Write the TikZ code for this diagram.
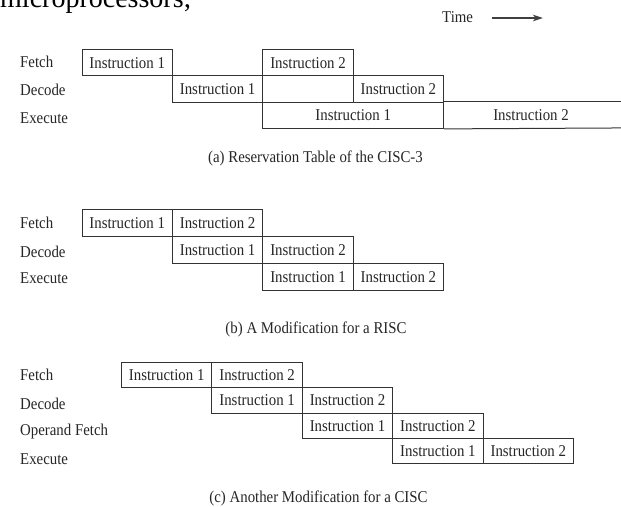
\documentclass[tikz,border=0pt]{standalone}
\usepackage{fontspec}
\setmainfont[FakeStretch=0.9]{Liberation Serif}
\newfontfamily\pagefont{Liberation Serif}
\usetikzlibrary{arrows.meta}
\begin{document}
\begin{tikzpicture}[x=1pt,y=-1pt,
  every node/.style={font=\fontsize{16.5}{18}\selectfont, inner sep=0pt, text=black!85},
  cell/.style={draw=black!80, line width=1pt, minimum width=90.4pt, anchor=north west},
  rowlabel/.style={anchor=base west},
  caption/.style={anchor=base},
  edge/.style={draw=black!80, line width=1pt}]
\useasboundingbox (0,0) rectangle (621,506);
\clip (0,0) rectangle (621,506);
\fill[white] (0,0) rectangle (621,506);

% cut-off page text
\node[anchor=base west, font=\pagefont\fontsize{28}{30}\selectfont, text=black] (page) at (0,7.5) {microprocessors;};

% Time arrow
\node[anchor=base west] (time) at (442,22.5) {Time};
\coordinate (timestart) at (492,18);
\coordinate (timeend) at (543,18);
\draw[draw=black!75, line width=1.2pt, -{Stealth[length=10pt,width=6.5pt,inset=2.5pt]}] (timestart) -- (timeend);

% ---------- (a) ----------
\begin{scope}
\node[rowlabel] (aF) at (20,67.5) {Fetch};
\node[rowlabel] (aD) at (20,95.5) {Decode};
\node[rowlabel] (aE) at (20,123.3) {Execute};
\tikzset{cell/.append style={minimum height=26.3pt}}
\node[cell] (af1) at (81.5,49) {Instruction 1};
\node[cell] (af2) at (262.3,49) {Instruction 2};
\node[cell] (ad1) at (171.9,75.3) {Instruction 1};
\node[cell] (ad2) at (352.7,75.3) {Instruction 2};
\node[cell, minimum width=180.8pt] (ae1) at (262.3,101.6) {Instruction 1};
\node (ae2) at (531,114.75) {Instruction 2};
\coordinate (aetop) at (630,101.6);
\coordinate (aebot) at (630,127.9);
\draw[edge] (ae1.north east) -- (aetop);
\draw[edge] (ae1.south east) -- (aebot);
\end{scope}
\node[caption] (capa) at (315.5,162) {(a) Reservation Table of the CISC-3};

% ---------- (b) ----------
\begin{scope}
\node[rowlabel] (bF) at (20,228) {Fetch};
\node[rowlabel] (bD) at (20,257) {Decode};
\node[rowlabel] (bE) at (20,283) {Execute};
\tikzset{cell/.append style={minimum height=27pt}}
\node[cell] (bf1) at (81.5,209) {Instruction 1};
\node[cell] (bf2) at (171.9,209) {Instruction 2};
\node[cell] (bd1) at (171.9,236) {Instruction 1};
\node[cell] (bd2) at (262.3,236) {Instruction 2};
\node[cell] (be1) at (262.3,263) {Instruction 1};
\node[cell] (be2) at (352.7,263) {Instruction 2};
\end{scope}
\node[caption] (capb) at (316,333) {(b) A Modification for a RISC};

% ---------- (c) ----------
\begin{scope}
\node[rowlabel] (cF) at (20,380) {Fetch};
\node[rowlabel] (cD) at (20,409) {Decode};
\node[rowlabel] (cO) at (20,435) {Operand Fetch};
\node[rowlabel] (cE) at (20,464.5) {Execute};
\tikzset{cell/.append style={minimum height=25.25pt}}
\node[cell] (cf1) at (121,362) {Instruction 1};
\node[cell] (cf2) at (211.4,362) {Instruction 2};
\node[cell] (cd1) at (211.4,387.25) {Instruction 1};
\node[cell] (cd2) at (301.8,387.25) {Instruction 2};
\node[cell] (co1) at (301.8,412.5) {Instruction 1};
\node[cell] (co2) at (392.2,412.5) {Instruction 2};
\node[cell] (ce1) at (392.2,437.75) {Instruction 1};
\node[cell] (ce2) at (482.6,437.75) {Instruction 2};
\end{scope}
\node[caption] (capc) at (318.5,502) {(c) Another Modification for a CISC};
\end{tikzpicture}
\end{document}
